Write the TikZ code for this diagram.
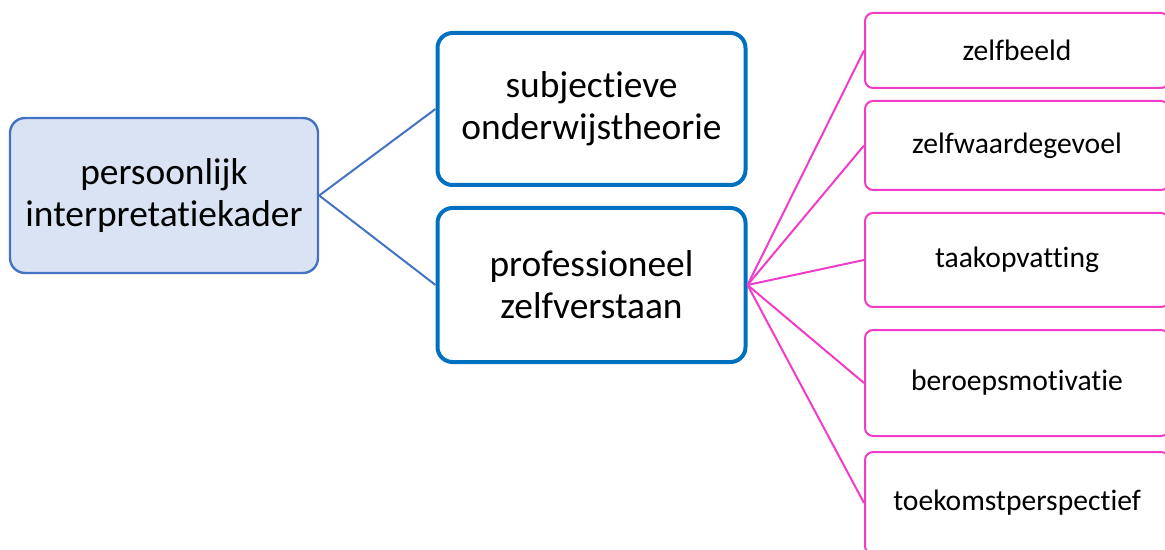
\documentclass[tikz,border=0pt]{standalone}
\usepackage{fontspec}
\setmainfont{Carlito}[Ligatures={NoCommon, NoRare, NoContextual}]
\usepackage{xcolor}
\definecolor{kaderfill}{HTML}{DAE3F3}
\definecolor{kaderline}{HTML}{4472C4}
\definecolor{blauw}{HTML}{0070C0}
\definecolor{roze}{HTML}{F03CC8}
\usepackage{tikz}

\begin{document}
\begin{tikzpicture}[x=0.5pt, y=-0.5pt,
    hoofd/.style={rectangle, rounded corners=7.5pt, align=center, font=\fontsize{18.7}{21}\selectfont,
        minimum width=154pt, inner sep=0pt},
    deel/.style={rectangle, rounded corners=4pt, draw=roze, line width=1pt, align=center,
        font=\fontsize{14.8}{17}\selectfont, minimum width=152pt, inner sep=0pt}]
                        \clip (0,0) rectangle (1165,550);
                        \useasboundingbox (0,0) rectangle (1165,550);

                        \node (kader) at (164, 195.5) [hoofd, draw=kaderline, fill=kaderfill, line width=1.2pt, minimum height=77.5pt] {persoonlijk\\interpretatiekader};

                        \node (theorie) at (591.5, 109) [hoofd, draw=blauw, line width=2pt, minimum height=76pt] {subjectieve\\onderwijstheorie};
                        \node (zelf) at (591.5, 285) [hoofd, draw=blauw, line width=2pt, minimum height=77pt] {professioneel\\zelfverstaan};

                        \node (beeld) at (1017, 50.5) [deel, minimum height=37.5pt] {zelfbeeld};
                        \node (waarde) at (1017, 145.5) [deel, minimum height=44.5pt] {zelfwaardegevoel};
                        \node (taak) at (1017, 260) [deel, minimum height=47pt] {taakopvatting};
                        \node (motivatie) at (1017, 383) [deel, minimum height=53pt] {beroepsmotivatie};
                        \node (toekomst) at (1017, 503) [deel, minimum height=51pt] {toekomstperspectief};

                        \draw[color=kaderline, line width=1pt] (kader.east) -- (theorie.west);
                        \draw[color=kaderline, line width=1pt] (kader.east) -- (zelf.west);

                        \foreach \n in {beeld, waarde, taak, motivatie, toekomst}
                            \draw[color=roze, line width=1pt] (zelf.east) -- (\n.west);
                    \end{tikzpicture}
\end{document}
